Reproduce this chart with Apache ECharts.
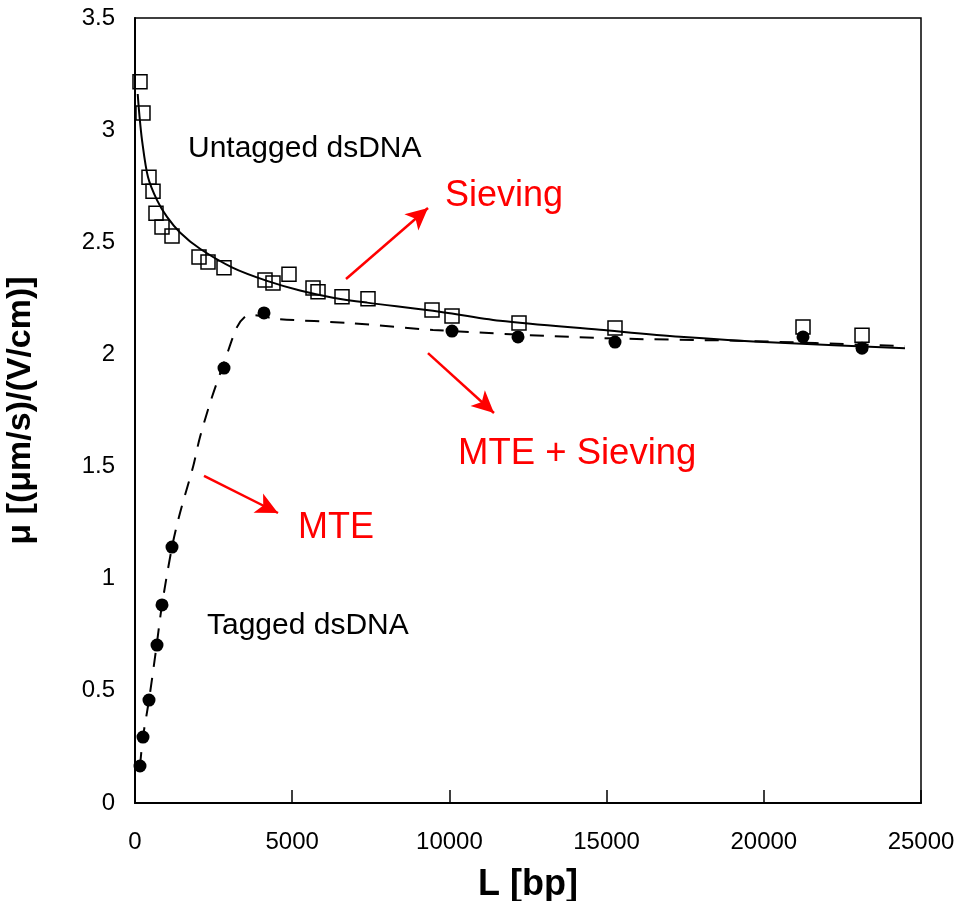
<!DOCTYPE html>
<html><head><meta charset="utf-8">
<script src="https://cdn.jsdelivr.net/npm/echarts@6/dist/echarts.min.js"></script>
<style>html,body{margin:0;padding:0;background:#fff}#c{width:960px;height:901px}</style>
</head><body><div id="c"></div>
<script>
// Untagged dsDNA (open squares)
const untaggedL  = [159, 254, 445, 573, 668, 859, 1177, 2036, 2322, 2831, 4135, 4389, 4898, 5662, 5821, 6584, 7411, 9447, 10083, 12214, 15267, 21247, 23124];
const untaggedMu = [3.216, 3.076, 2.790, 2.728, 2.630, 2.568, 2.528, 2.434, 2.412, 2.386, 2.332, 2.318, 2.358, 2.296, 2.279, 2.257, 2.248, 2.198, 2.171, 2.140, 2.118, 2.122, 2.086];
// Tagged dsDNA (filled circles)
const taggedL  = [159, 254, 445, 700, 859, 1177, 2831, 4103, 10083, 12182, 15267, 21247, 23124];
const taggedMu = [0.165, 0.294, 0.459, 0.704, 0.883, 1.141, 1.939, 2.185, 2.104, 2.078, 2.055, 2.078, 2.028];
// Sieving fit (solid curve)
const sieveL  = [86, 137, 223, 413, 700, 1018, 1431, 2068, 3117, 4199, 5248, 6298, 7379, 9478, 11609, 14790, 17335, 20515, 24491];
const sieveMu = [3.161, 3.072, 2.956, 2.791, 2.688, 2.613, 2.544, 2.471, 2.386, 2.328, 2.285, 2.253, 2.231, 2.195, 2.150, 2.110, 2.079, 2.052, 2.028];
// MTE + sieving fit (dashed curve)
const mteL  = [159, 254, 445, 668, 859, 1177, 1431, 1845, 2068, 2449, 2863, 3244, 3499, 3700, 4548, 6838, 9478, 14790, 19466, 24491];
const mteMu = [0.165, 0.294, 0.459, 0.682, 0.883, 1.141, 1.293, 1.498, 1.632, 1.810, 1.975, 2.122, 2.168, 2.176, 2.158, 2.140, 2.109, 2.073, 2.060, 2.037];
// Annotation arrows (data coordinates)
const arrows = [
  [[6711, 2.336], [9319, 2.653]],
  [[9319, 2.006], [11418, 1.739]],
  [[2195, 1.458], [4548, 1.293]]
];
const xTicks = [0, 5000, 10000, 15000, 20000, 25000];
const yTicks = [0, 0.5, 1, 1.5, 2, 2.5, 3, 3.5];

const zip = (a, b) => a.map((v, i) => [v, b[i]]);
const FONT = 'Liberation Sans, Arial, sans-serif';
const chart = echarts.init(document.getElementById('c'), null, {renderer: 'canvas'});
chart.setOption({
  animation: false,
  backgroundColor: '#fff',
  grid: {left: 135, right: 39, top: 18, bottom: 98, show: true, borderColor: '#000', borderWidth: 1.5,
         backgroundColor: 'transparent', containLabel: false, outerBoundsMode: 'none'},
  xAxis: {
    type: 'value', min: xTicks[0], max: xTicks[xTicks.length - 1], interval: 5000,
    name: 'L [bp]', nameLocation: 'middle', nameGap: 64,
    nameTextStyle: {fontFamily: FONT, fontSize: 36, fontWeight: 'bold', color: '#000'},
    axisLine: {lineStyle: {color: '#000', width: 2}},
    axisTick: {inside: true, length: 13, lineStyle: {color: '#000', width: 1.5}},
    axisLabel: {fontFamily: FONT, fontSize: 24, color: '#000', margin: 27, formatter: v => String(v)},
    splitLine: {show: false}
  },
  yAxis: {
    type: 'value', min: yTicks[0], max: yTicks[yTicks.length - 1], interval: 0.5,
    name: 'μ [(μm/s)/(V/cm)]', nameLocation: 'middle', nameGap: 97, nameRotate: 90,
    nameTextStyle: {fontFamily: FONT, fontSize: 34, fontWeight: 'bold', color: '#000'},
    axisLine: {lineStyle: {color: '#000', width: 2}},
    axisTick: {show: false},
    axisLabel: {fontFamily: FONT, fontSize: 24, color: '#000', margin: 20, formatter: v => String(v)},
    splitLine: {show: false}
  },
  series: [
    {
      type: 'line', data: zip(sieveL, sieveMu), smooth: 0.3, showSymbol: false, symbol: 'none',
      lineStyle: {color: '#000', width: 2}, z: 2,
      markLine: {
        silent: true, symbol: ['none', 'arrow'], symbolSize: [16, 22],
        lineStyle: {color: '#ff0000', width: 2.5, type: 'solid'}, label: {show: false},
        data: arrows.map(a => [{coord: a[0]}, {coord: a[1]}])
      }
    },
    {
      type: 'line', data: zip(mteL, mteMu), smooth: 0.3, showSymbol: false, symbol: 'none',
      lineStyle: {color: '#000', width: 2, type: [14, 11]}, z: 2
    },
    {
      type: 'scatter', data: zip(untaggedL, untaggedMu), symbol: 'rect', symbolSize: 14,
      itemStyle: {color: 'rgba(255,255,255,0)', borderColor: '#000', borderWidth: 1.5, opacity: 1}, z: 3
    },
    {
      type: 'scatter', data: zip(taggedL, taggedMu), symbol: 'circle', symbolSize: 13,
      itemStyle: {color: '#000', opacity: 1}, z: 4
    }
  ],
  graphic: [
    {type: 'text', left: 188, top: 134, style: {text: 'Untagged dsDNA', font: '30px ' + FONT, fill: '#000'}},
    {type: 'text', left: 207, top: 611, style: {text: 'Tagged dsDNA', font: '30px ' + FONT, fill: '#000'}},
    {type: 'text', left: 445, top: 178, style: {text: 'Sieving', font: '36px ' + FONT, fill: '#ff0000'}},
    {type: 'text', left: 458, top: 435, style: {text: 'MTE + Sieving', font: '36.5px ' + FONT, fill: '#ff0000'}},
    {type: 'text', left: 298, top: 510, style: {text: 'MTE', font: '36px ' + FONT, fill: '#ff0000'}}
  ]
});
</script></body></html>
